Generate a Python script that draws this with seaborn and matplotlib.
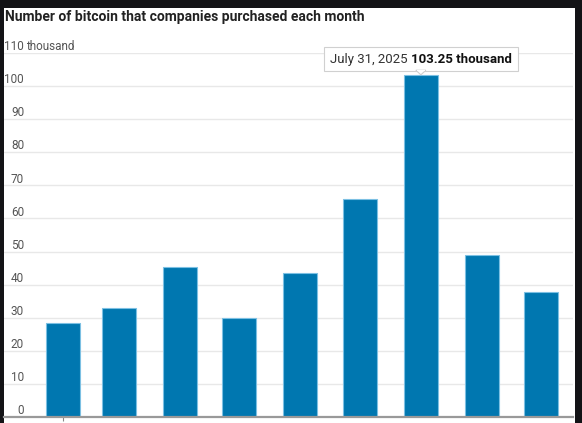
import pandas as pd
import matplotlib
matplotlib.use("Agg")
import matplotlib.pyplot as plt
import matplotlib.dates as mdates
from matplotlib.patches import Rectangle, Polygon
from matplotlib.transforms import IdentityTransform
import seaborn as sns

# data (thousand bitcoin per month)
months = ["2025-01-31", "2025-02-28", "2025-03-31", "2025-04-30", "2025-05-31",
          "2025-06-30", "2025-07-31", "2025-08-31", "2025-09-30"]
purchased = [28.3, 32.9, 45.4, 29.9, 43.4, 66.0, 103.25, 49.0, 37.7]
y_ticks = [0, 10, 20, 30, 40, 50, 60, 70, 80, 90, 100, 110]
title = "Number of bitcoin that companies purchased each month"
tip_date = "July 31, 2025"
tip_value = "103.25 thousand"
tip_index = 6

sns.set_style("white")
fam = ["Liberation Sans Narrow", "Roboto", "DejaVu Sans"]
plt.rcParams["font.family"] = fam

df = pd.DataFrame({"date": pd.to_datetime(months), "value": purchased})
df["x"] = mdates.date2num(df["date"])

W, H = 582, 423
fig = plt.figure(figsize=(W / 100, H / 100), dpi=100, facecolor="#131316")
# white card inside the dark frame
fig.add_artist(Rectangle((4 / W, 0), 571 / W, 415 / H, transform=fig.transFigure,
                         facecolor="white", edgecolor="none", zorder=0))

ax = fig.add_axes([4 / W, 6 / H, 569 / W, 364 / H])
ax.set_facecolor("none")

sns.barplot(data=df, x="x", y="value", native_scale=True, width=0.615,
            color="#0077b0", edgecolor="#7cc0e3", linewidth=0.8, saturation=1,
            ax=ax, zorder=3)

ax.set_xlim(mdates.date2num(pd.Timestamp("2025-01-01")),
            mdates.date2num(pd.Timestamp("2025-10-16")))
ax.set_ylim(0, 110)
ax.set_yticks(y_ticks)
ax.yaxis.grid(True, color="#e8e8e8", linewidth=1)
ax.tick_params(axis="y", left=False, labelleft=False)
ax.set_xticks([df["x"].iloc[0]])
ax.tick_params(axis="x", bottom=True, length=3, width=0.8, color="#888888",
               labelbottom=False)
ax.set_xlabel("")
ax.set_ylabel("")
for s in ["top", "right", "left"]:
    ax.spines[s].set_visible(False)
ax.spines["bottom"].set_color("#999999")
ax.spines["bottom"].set_linewidth(1.6)
ax.spines["bottom"].set_zorder(4)

# y labels sit above their gridlines, inside the plot
ytr = ax.get_yaxis_transform()
lab_x = 20 / 569
for v in y_ticks:
    ax.annotate(str(v), xy=(lab_x, v), xycoords=ytr, xytext=(0, 2),
                textcoords="offset points", ha="right", va="baseline",
                fontsize=8.5, color="#555555")
ax.annotate("thousand", xy=(lab_x, y_ticks[-1]), xycoords=ytr, xytext=(1.5, 2),
            textcoords="offset points", ha="left", va="baseline",
            fontsize=8.5, color="#555555")

fig.text(5 / W, 1 - 17 / H, title, ha="left", va="center", fontsize=10,
         fontweight="bold", color="#222222")

# tooltip over the peak bar
r = fig.canvas.get_renderer()
xd, yd = ax.transData.transform((df["x"].iloc[tip_index], df["value"].iloc[tip_index]))
idt = IdentityTransform()
t1 = fig.text(0, 0, tip_date, transform=idt, fontsize=9.5, color="#333333",
              va="baseline", zorder=6)
t2 = fig.text(0, 0, tip_value, transform=idt, fontsize=9.5, fontweight="bold",
              color="#111111", va="baseline", zorder=6)
w1 = t1.get_window_extent(r).width
w2 = t2.get_window_extent(r).width
gap = 4
total = w1 + gap + w2
x0 = xd - total / 2
base = yd + 12
t1.set_position((x0, base))
t2.set_position((x0 + w1 + gap, base))
bx0, by0 = x0 - 6, yd + 4.5
fig.add_artist(Rectangle((bx0, by0), total + 12, 24, transform=idt,
                         facecolor="white", edgecolor="#d0d0d0", linewidth=0.8,
                         zorder=5))
fig.add_artist(Polygon([(xd - 5, by0 + 0.6), (xd, yd + 0.5), (xd + 5, by0 + 0.6)],
                       closed=True, transform=idt, facecolor="white",
                       edgecolor="#d0d0d0", linewidth=0.8, zorder=5))
fig.add_artist(Rectangle((xd - 4.3, by0 - 0.2), 8.6, 1.4, transform=idt,
                         facecolor="white", edgecolor="none", zorder=5))

fig.savefig("out.png", dpi=100, facecolor=fig.get_facecolor())
